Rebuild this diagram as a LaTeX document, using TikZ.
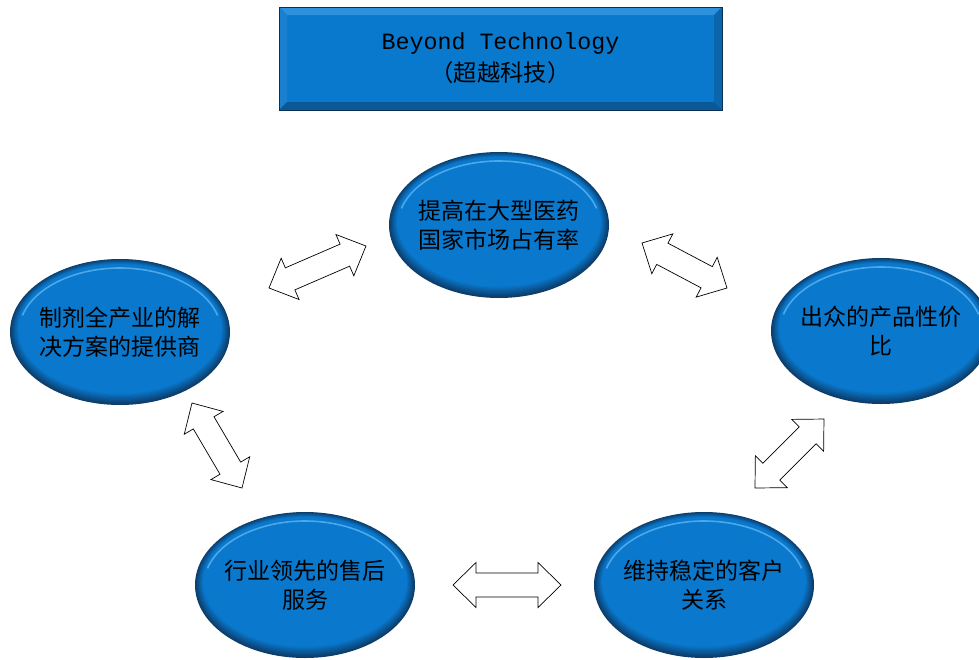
\documentclass[tikz,border=0pt]{standalone}
\usepackage{fontspec}
\setmainfont{Liberation Mono}
\newfontfamily\cjk{Noto Sans CJK SC}
\usetikzlibrary{calc,shapes.geometric}
\definecolor{bmain}{RGB}{9,121,206}
\definecolor{bdark}{RGB}{12,60,105}
\definecolor{blight}{RGB}{100,185,245}
\definecolor{bevtop}{RGB}{45,145,222}
\definecolor{bevleft}{RGB}{25,128,208}
\definecolor{bevbot}{RGB}{10,88,150}
\definecolor{bevright}{RGB}{12,100,170}
\tikzset{
  bubble/.style={ellipse, minimum width=220pt, minimum height=146pt, inner sep=0pt, fill=bdark,
    path picture={
      \foreach \k [evaluate=\k as \p using int(\k*11)] in {1,...,9}{
        \fill[bmain!\p!bdark] ([yshift={\k*0.35pt}]path picture bounding box.center)
          ellipse [x radius={110-\k*0.9}, y radius={73-\k*0.9}];
      }
      \draw[blight, line width=1.6pt, opacity=0.75]
        ([shift={(195:101 and 64)}]path picture bounding box.center)
        arc [start angle=195, end angle=345, x radius=101, y radius=64];
    }},
  btext/.style={font=\cjk\fontsize{23}{29}\selectfont, align=center, text=black, inner sep=0pt},
  titlebox/.style={rectangle, minimum width=443pt, minimum height=103pt, inner sep=0pt,
    fill=bmain, draw=bdark!80!black, line width=0.8pt,
    path picture={
      \coordinate (pnw) at (path picture bounding box.north west);
      \coordinate (pne) at (path picture bounding box.north east);
      \coordinate (psw) at (path picture bounding box.south west);
      \coordinate (pse) at (path picture bounding box.south east);
      \fill[bevtop] (pnw) -- (pne) -- ([shift={(-8pt,-8pt)}]pne) -- ([shift={(8pt,-8pt)}]pnw) -- cycle;
      \fill[bevleft] (pnw) -- ([shift={(8pt,-8pt)}]pnw) -- ([shift={(8pt,8pt)}]psw) -- (psw) -- cycle;
      \fill[bevbot] (psw) -- ([shift={(8pt,8pt)}]psw) -- ([shift={(-8pt,8pt)}]pse) -- (pse) -- cycle;
      \fill[bevright] (pne) -- ([shift={(-8pt,-8pt)}]pne) -- ([shift={(-8pt,8pt)}]pse) -- (pse) -- cycle;
    }},
  titletext/.style={font=\fontsize{23.3}{32}\selectfont, align=center, text=black, inner sep=0pt},
  arrowline/.style={draw=black, fill=white, line width=0.7pt, line join=miter},
  pics/dblarrow/.style={code={
    \draw[arrowline] (0,0) -- (23,-22.5) -- (23,-12) -- ({#1-23},-12) -- ({#1-23},-22.5)
      -- (#1,0) -- ({#1-23},22.5) -- ({#1-23},12) -- (23,12) -- (23,22.5) -- cycle;
  }}
}
\begin{document}
\begin{tikzpicture}[x=1pt, y=-1pt]
\useasboundingbox (0,0) rectangle (979,659);
\fill[white] (0,0) rectangle (979,659);

% title
\node[titlebox] (title) at (500.5,58.5) {};
\node[titletext] (titlet) at (title.center) {Beyond Technology\\{\cjk （超越科技）}};

% ellipses
\node[bubble] (top) at (499,225) {};
\node[btext] (toptext) at (top.center) {提高在大型医药\\国家市场占有率};
\node[bubble] (left) at (120,332) {};
\node[btext] (lefttext) at (left.center) {制剂全产业的解\\决方案的提供商};
\node[bubble] (right) at (881,331) {};
\node[btext] (righttext) at (right.center) {出众的产品性价\\比};
\node[bubble] (bl) at (305,585) {};
\node[btext] (bltext) at (bl.center) {行业领先的售后\\服务};
\node[bubble] (br) at (704,585) {};
\node[btext] (brtext) at (br.center) {维持稳定的客户\\关系};

% arrow end points
\coordinate (a1s) at (269,288); \coordinate (a1e) at (366,246);
\coordinate (a2s) at (642,243); \coordinate (a2e) at (727,288);
\coordinate (a3s) at (755,488); \coordinate (a3e) at (824,419);
\coordinate (a4s) at (192,403); \coordinate (a4e) at (242,488);
\coordinate (a5s) at (453,585); \coordinate (a5e) at (561,585);

\foreach \s/\e in {a1s/a1e, a2s/a2e, a3s/a3e, a4s/a4e, a5s/a5e}{
  \path let \p1=($(\e)-(\s)$), \n1={atan2(\y1,\x1)}, \n2={veclen(\x1,\y1)} in
    pic[rotate=\n1] at (\s) {dblarrow=\n2};
}
\end{tikzpicture}
\end{document}
